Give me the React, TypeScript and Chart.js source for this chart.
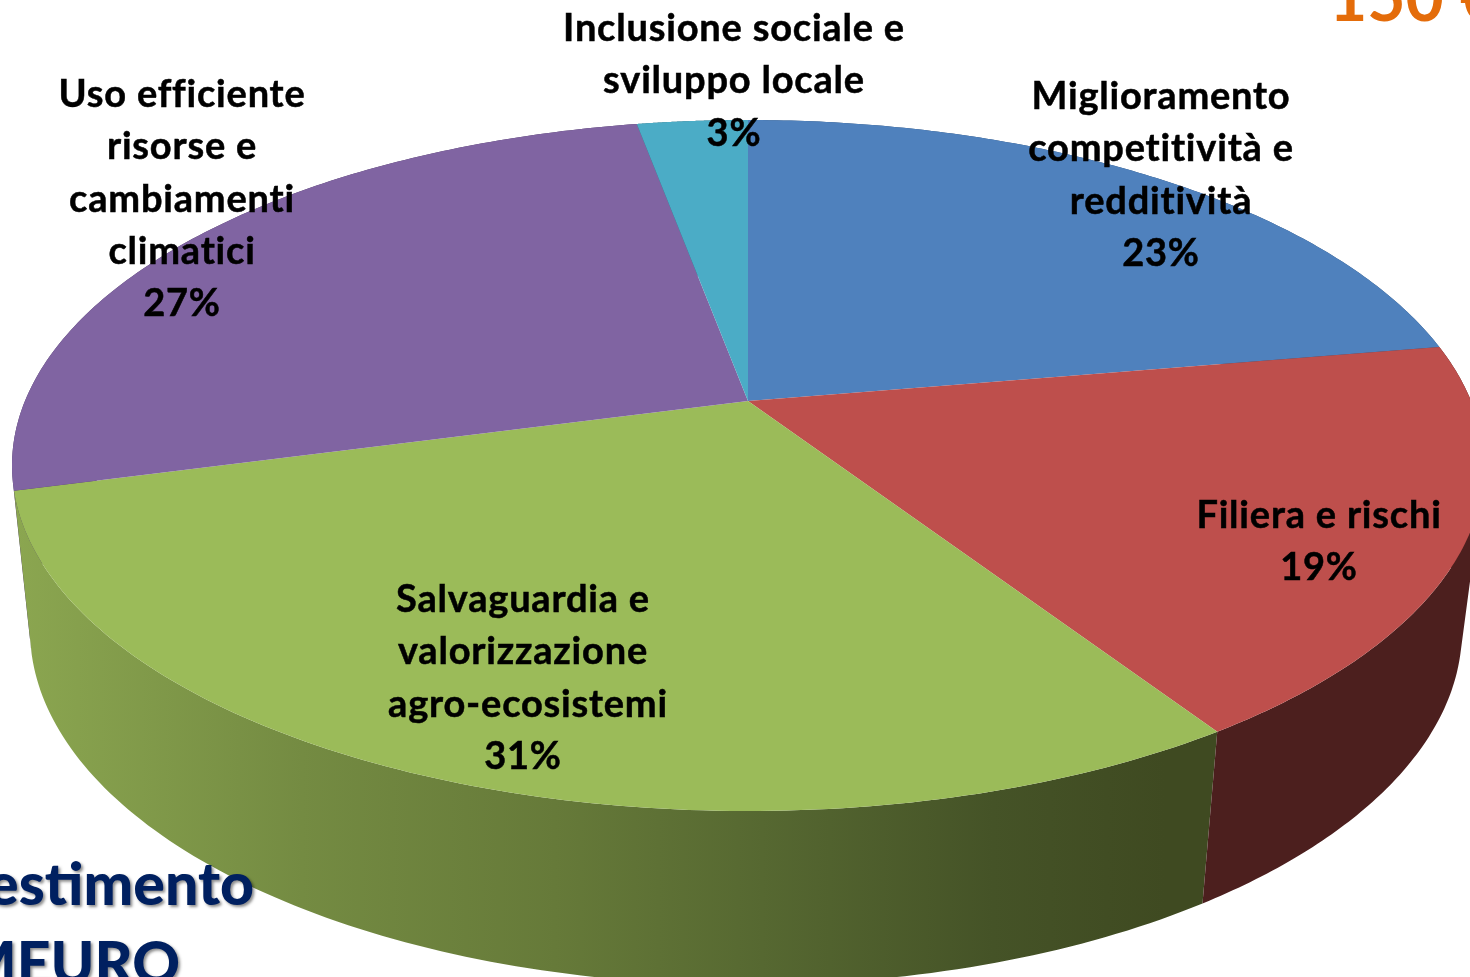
import React, { useEffect, useRef } from "react";
import { Chart, registerables } from "chart.js";

Chart.register(...registerables);

const categories = [
  "Miglioramento competitività e redditività",
  "Filiera e rischi",
  "Salvaguardia e valorizzazione agro-ecosistemi",
  "Uso efficiente risorse e cambiamenti climatici",
  "Inclusione sociale e sviluppo locale",
];
const percentages = [23, 19, 31, 27, 3];
const sliceColors = ["#4F81BD", "#BE4F4C", "#9BBB59", "#8064A2", "#4BACC6"];
const wallColors = ["#2F4D71", "#4C1F1E", "#3F4A21", "#4C3C61", "#2D6776"];

const labelLines = [
  ["Miglioramento", "competitività e", "redditività"],
  ["Filiera e rischi"],
  ["Salvaguardia e", "valorizzazione", "agro-ecosistemi"],
  ["Uso efficiente", "risorse e", "cambiamenti", "climatici"],
  ["Inclusione sociale e", "sviluppo locale"],
];

const FONT = '"Lato", "Open Sans", sans-serif';

// Label blocks: centre x and the y of the first line's middle
const labelAnchors = [
  { x: 1161, y: 97 },
  { x: 1319, y: 516 },
  { x: 523, y: 600 },
  { x: 182, y: 95 },
  { x: 734, y: 29 },
];

// Perspective of the pie: top face and the lower rim of its wall
const top = { cx: 748, cy: 465.5, rx: 736, ry: 345.5 };
const bottom = { cx: 746, cy: 630, rx: 716, ry: 355 };
const apexShift = (465.5 - 401) / 345.5;

function disk(theta: number) {
  const u = Math.sin(theta);
  const v = -Math.cos(theta);
  const d = 1 - apexShift * v;
  return {
    u: (u * Math.sqrt(1 - apexShift * apexShift)) / d,
    v: (v - apexShift) / d,
  };
}
const place = (e: typeof top, p: { u: number; v: number }) => ({
  x: e.cx + e.rx * p.u,
  y: e.cy + e.ry * p.v,
});

const pie3d = {
  id: "pie3d",
  beforeDatasetsDraw(chart: any) {
    const ctx: CanvasRenderingContext2D = chart.ctx;
    const arcs = chart.getDatasetMeta(0).data;
    const rims = arcs.map((a: any) => {
      const s = a.startAngle + Math.PI / 2;
      const e = a.endAngle + Math.PI / 2;
      const pts = [];
      const n = 120;
      for (let i = 0; i <= n; i++) pts.push(disk(s + ((e - s) * i) / n));
      return pts;
    });

    const greenWall = ctx.createLinearGradient(15, 0, 1165, 0);
    greenWall.addColorStop(0, "#8BA650");
    greenWall.addColorStop(0.25, "#748B42");
    greenWall.addColorStop(0.47, "#667A39");
    greenWall.addColorStop(0.65, "#566831");
    greenWall.addColorStop(0.85, "#455327");
    greenWall.addColorStop(1, "#3F4A21");

    // walls: back slices first, front slices last. All facets of a slice go
    // into one path with the same winding, so a single fill leaves no seams.
    [0, 4, 3, 2, 1].forEach((i) => {
      const pts = rims[i];
      ctx.fillStyle = i === 2 ? greenWall : wallColors[i];
      ctx.beginPath();
      for (let k = 0; k < pts.length - 1; k++) {
        let quad = [
          place(top, pts[k]),
          place(top, pts[k + 1]),
          place(bottom, pts[k + 1]),
          place(bottom, pts[k]),
        ];
        let area = 0;
        quad.forEach((p, j) => {
          const q = quad[(j + 1) % 4];
          area += p.x * q.y - q.x * p.y;
        });
        if (area < 0) quad = quad.reverse();
        quad.forEach((p, j) => (j ? ctx.lineTo(p.x, p.y) : ctx.moveTo(p.x, p.y)));
        ctx.closePath();
      }
      ctx.fill("nonzero");
    });

    // top faces, in the colours Chart.js resolved for each arc
    arcs.forEach((a: any, i: number) => {
      ctx.beginPath();
      ctx.moveTo(top.cx, top.cy - top.ry * apexShift);
      rims[i].forEach((p: any) => {
        const q = place(top, p);
        ctx.lineTo(q.x, q.y);
      });
      ctx.closePath();
      ctx.fillStyle = a.options.backgroundColor;
      ctx.fill();
    });
    return false;
  },
  afterDraw(chart: any) {
    const ctx: any = chart.ctx;
    ctx.save();
    ctx.fillStyle = "#000";
    ctx.strokeStyle = "#000";
    ctx.lineWidth = 0.5;
    ctx.textAlign = "center";
    ctx.textBaseline = "middle";
    ctx.font = `700 38px ${FONT}`;
    ctx.letterSpacing = "0.8px";
    labelLines.forEach((lines, i) => {
      const { x, y } = labelAnchors[i];
      [...lines, `${percentages[i]}%`].forEach((t, k) => {
        const dx = t === "agro-ecosistemi" ? 5 : 0;
        ctx.fillText(t, x + dx, y + k * 52.2);
        ctx.strokeText(t, x + dx, y + k * 52.2);
      });
    });
    ctx.letterSpacing = "0px";

    // fragments of the slide's own headings, cropped by the photograph
    ctx.textBaseline = "alphabetic";
    ctx.textAlign = "left";
    ctx.fillStyle = "#E46C0A";
    ctx.font = `700 66px ${FONT}`;
    ctx.fillText("150 €", 1329, 21);

    ctx.textAlign = "right";
    ctx.fillStyle = "#002060";
    ctx.font = `900 59px ${FONT}`;
    ctx.shadowColor = "rgba(0,0,0,0.45)";
    ctx.shadowBlur = 3;
    ctx.shadowOffsetX = 2;
    ctx.shadowOffsetY = 2;
    ctx.fillText("Investimento", 254, 905);
    ctx.fillText("MEURO", 180, 984);
    ctx.restore();
  },
};

export default function App() {
  const ref = useRef<HTMLCanvasElement | null>(null);
  useEffect(() => {
    const chart = new Chart(ref.current as HTMLCanvasElement, {
      type: "pie",
      data: {
        labels: categories,
        datasets: [{ data: percentages, backgroundColor: sliceColors, borderWidth: 0 }],
      },
      options: {
        animation: false,
        responsive: false,
        plugins: { legend: { display: false }, tooltip: { enabled: false } },
      },
      plugins: [pie3d as any],
    });
    return () => chart.destroy();
  }, []);
  return (
    <div style={{ position: "fixed", left: 0, top: 0, width: 1470, height: 977, overflow: "hidden", background: "#fff" }}>
      <canvas ref={ref} width={1470} height={977} style={{ display: "block" }} />
    </div>
  );
}
